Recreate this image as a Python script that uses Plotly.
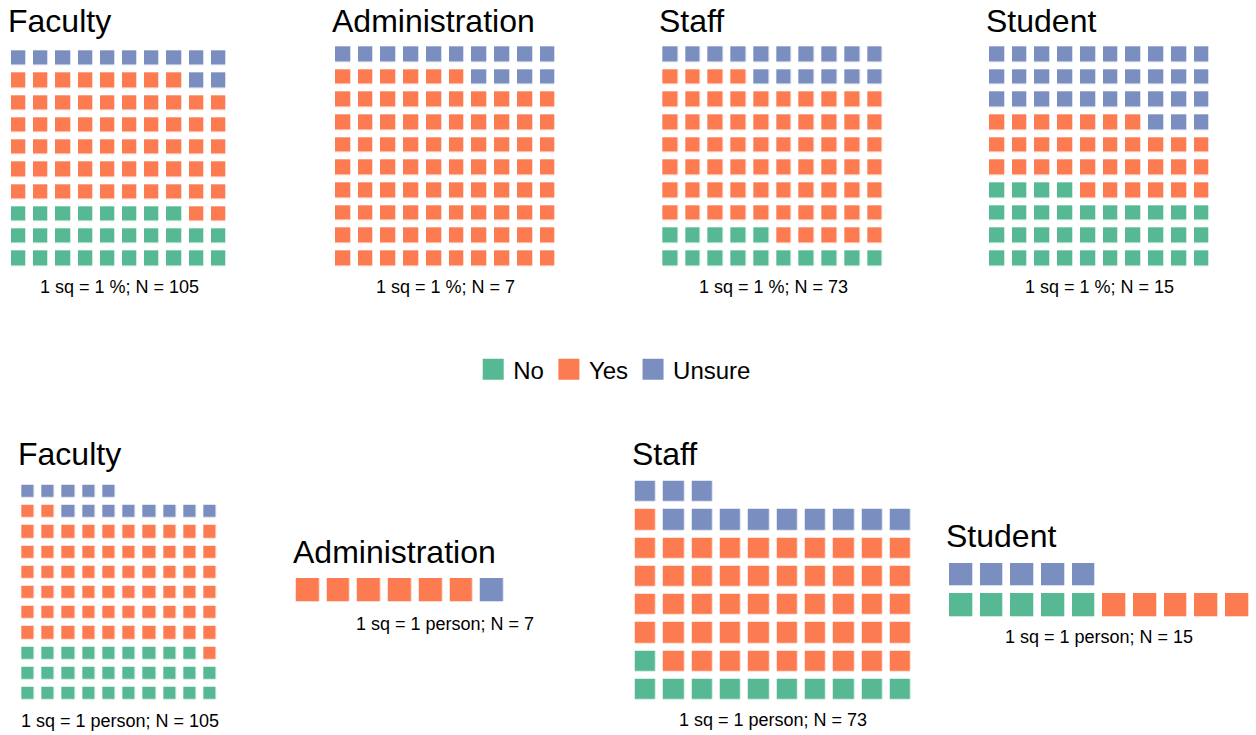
import math
import plotly.graph_objects as go

# ---------------- data ----------------
groups = ["Faculty", "Administration", "Staff", "Student"]
categories = ["No", "Yes", "Unsure"]
cat_colors = ["#57B994", "#FC7B51", "#7B8EC0"]

# top row: 1 square = 1 %
pct_no = [28, 0, 15, 34]
pct_yes = [60, 86, 69, 33]
pct_unsure = [12, 14, 16, 33]

# bottom row: 1 square = 1 person
n_no = [29, 0, 11, 5]
n_yes = [63, 6, 50, 5]
n_unsure = [13, 1, 12, 5]
n_total = [105, 7, 73, 15]

top_cols = [10, 10, 10, 10]
bottom_cols = [10, 7, 10, 10]

# ---------------- layout geometry (pixels) ----------------
W, H = 1256, 735
GAP = 7.7
# grid boxes: (left, top, right, bottom)
top_boxes = [(8, 47.3, 230, 270), (332, 43.3, 559.3, 270),
             (659.3, 43.3, 886.7, 270), (986, 43.3, 1213.3, 270)]
bottom_boxes = [(18.3, 481.7, 220.7, 704), (292.7, 575, 507.7, 606),
                (631.7, 477.7, 915, 704), (946, 560, 1252.7, 620.7)]
top_title_base = [31.7, 31.7, 31.7, 31.7]
bottom_title_base = [465, 563.3, 465, 547.3]
top_caption_base = [293.3, 293.3, 293.3, 293.3]
bottom_caption_base = [727.7, 630, 726.7, 643.3]
bottom_caption_x = [None, 445.3, None, None]

TITLE_SIZE = 32
CAP_SIZE = 18
FONT = "Liberation Sans, Arial, sans-serif"

colorscale = [[0, cat_colors[0]], [1 / 3, cat_colors[0]],
              [1 / 3, cat_colors[1]], [2 / 3, cat_colors[1]],
              [2 / 3, cat_colors[2]], [1, cat_colors[2]]]


def waffle_matrix(counts, ncols):
    seq = []
    for code, cnt in enumerate(counts):
        seq += [code] * cnt
    nrows = math.ceil(len(seq) / ncols)
    z = [[None] * ncols for _ in range(nrows)]
    for i, v in enumerate(seq):
        z[i // ncols][i % ncols] = v
    return z, nrows


fig = go.Figure()
layout_axes = {}
annotations = []

panels = []
for i, g in enumerate(groups):
    panels.append(dict(title=g, counts=[pct_no[i], pct_yes[i], pct_unsure[i]],
                       ncols=top_cols[i], box=top_boxes[i],
                       tbase=top_title_base[i], cbase=top_caption_base[i], cx=None,
                       caption=f"1 sq = 1 %; N = {n_total[i]}"))
for i, g in enumerate(groups):
    panels.append(dict(title=g, counts=[n_no[i], n_yes[i], n_unsure[i]],
                       ncols=bottom_cols[i], box=bottom_boxes[i],
                       tbase=bottom_title_base[i], cbase=bottom_caption_base[i],
                       cx=bottom_caption_x[i],
                       caption=f"1 sq = 1 person; N = {n_total[i]}"))

for k, p in enumerate(panels, start=1):
    z, nrows = waffle_matrix(p["counts"], p["ncols"])
    ax = "" if k == 1 else str(k)
    fig.add_trace(go.Heatmap(
        z=z, x=list(range(p["ncols"])), y=list(range(nrows)),
        zmin=0, zmax=2, colorscale=colorscale, showscale=False,
        xgap=GAP, ygap=GAP, hoverinfo="skip",
        xaxis="x" + ax, yaxis="y" + ax))
    x0, y0, x1, y1 = p["box"]
    layout_axes["xaxis" + ax] = dict(domain=[x0 / W, x1 / W], range=[-0.5, p["ncols"] - 0.5],
                                     visible=False, fixedrange=True)
    layout_axes["yaxis" + ax] = dict(domain=[1 - y1 / H, 1 - y0 / H], range=[-0.5, nrows - 0.5],
                                     visible=False, fixedrange=True)
    annotations.append(dict(text=p["title"], xref="paper", yref="paper",
                            x=(x0 - 2) / W, y=1 - (p["tbase"] - 0.3465 * TITLE_SIZE) / H,
                            xanchor="left", yanchor="middle", showarrow=False,
                            font=dict(size=TITLE_SIZE, color="black", family=FONT)))
    cx = p["cx"] if p["cx"] is not None else (x0 + x1) / 2
    annotations.append(dict(text=p["caption"], xref="paper", yref="paper",
                            x=cx / W, y=1 - (p["cbase"] - 0.3465 * CAP_SIZE) / H,
                            xanchor="center", yanchor="middle", showarrow=False,
                            font=dict(size=CAP_SIZE, color="black", family=FONT)))

# legend entries
for cat, col in zip(categories, cat_colors):
    fig.add_trace(go.Scatter(x=[None], y=[None], mode="markers", name=cat,
                             marker=dict(symbol="square", size=16, color=col,
                                         line=dict(width=5, color=col)),
                             hoverinfo="skip", xaxis="x", yaxis="y"))

fig.update_layout(
    width=W, height=H, autosize=False,
    margin=dict(l=0, r=0, t=0, b=0),
    paper_bgcolor="white", plot_bgcolor="white",
    font=dict(family=FONT, color="black"),
    showlegend=True,
    legend=dict(orientation="h", x=614.7 / W, y=1 - 369.7 / H,
                xanchor="center", yanchor="middle",
                font=dict(size=24, family=FONT, color="black"),
                bgcolor="rgba(0,0,0,0)", itemclick=False, itemdoubleclick=False),
    annotations=annotations,
    **layout_axes,
)

fig.write_html("out.html", config={"displayModeBar": False},
               post_script="document.body.style.margin='0';")
